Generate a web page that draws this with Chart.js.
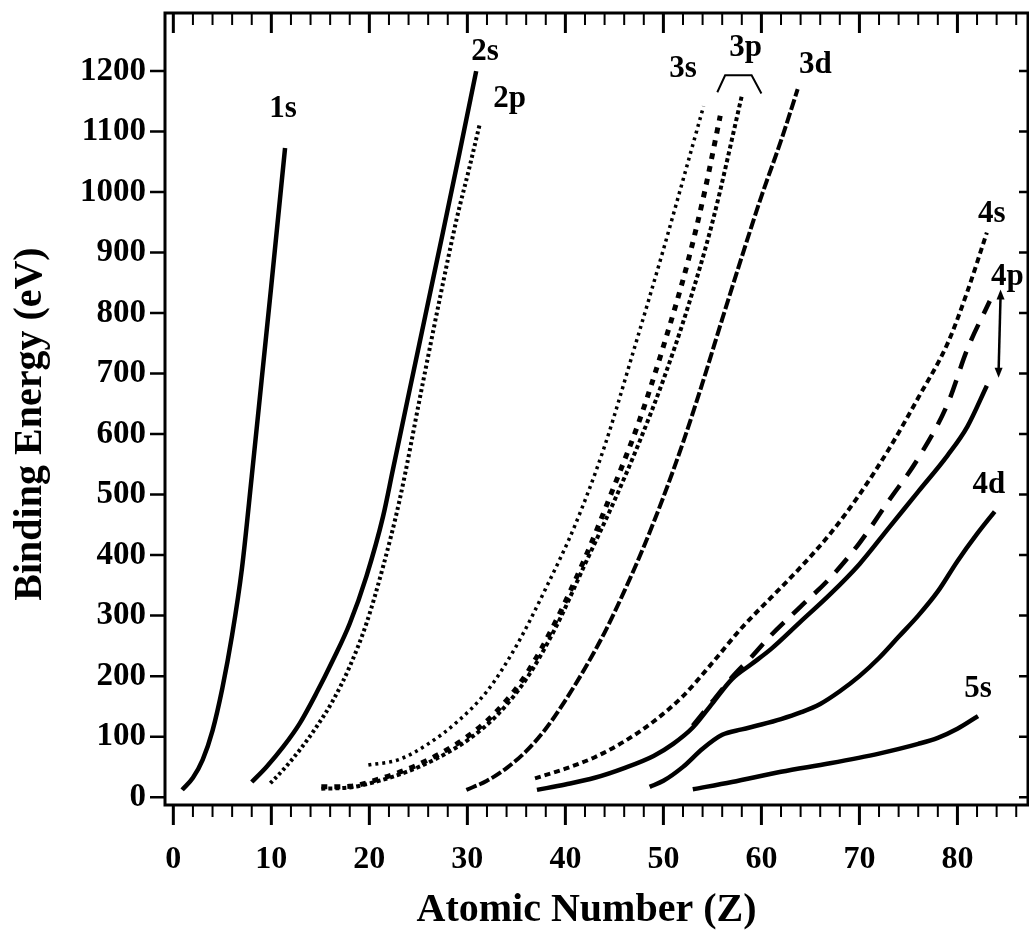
<!DOCTYPE html>
<html><head><meta charset="utf-8">
<script src="https://cdn.jsdelivr.net/npm/chart.js@4.4.0/dist/chart.umd.min.js"></script>
<style>html,body{margin:0;padding:0;background:#fff}#c{display:block}</style>
</head><body>
<canvas id="c" width="1029" height="931" style="width:1029px;height:931px"></canvas>
<script>
// ---- data (Z = atomic number, E = binding energy in eV) ----
const xTickLabels = [0, 10, 20, 30, 40, 50, 60, 70, 80];
const yTickLabels = [0, 100, 200, 300, 400, 500, 600, 700, 800, 900, 1000, 1100, 1200];

const z1s = [0.9, 2, 3, 4, 5, 6, 7, 8, 9, 10, 11.4];
const e1s = [12, 32, 62, 110, 180, 268, 378, 530, 688, 846, 1073];

const z2s = [8.0, 9.5, 11.2, 12.9, 14.6, 16.3, 18.0, 19.7, 21.4, 22.4, 23.9, 25.7, 27.5, 29.2, 30.9];
const e2s = [25, 50, 83, 122, 172, 227, 287, 365, 464, 541, 657, 795, 933, 1065, 1200];

const z2p = [9.9, 11.2, 12.9, 14.6, 16.3, 18.0, 19.7, 21.4, 23.1, 25.4, 27.2, 28.9, 30.2, 31.3];
const e2p = [23, 45, 78, 116, 160, 216, 287, 381, 492, 680, 825, 955, 1040, 1115];

const z3s = [19.9, 23, 26, 29, 32, 35, 38, 41, 44, 47, 50, 52, 54.1];
const e3s = [53, 62, 88, 125, 175, 250, 345, 450, 580, 740, 905, 1020, 1142];

const z3p1 = [15.1, 18, 21, 24, 27, 30, 33, 36, 39, 42, 45, 47.5, 50, 52.5, 54.2, 55.8];
const e3p1 = [17, 18, 30, 47, 70, 100, 142, 203, 290, 395, 515, 620, 745, 885, 1000, 1126];

const z3p3 = [15.1, 18, 21, 24, 27, 30, 33, 36, 39, 42, 45, 47.5, 50, 52.5, 55, 58];
const e3p3 = [14, 16, 27, 43, 65, 94, 135, 195, 280, 385, 490, 585, 690, 810, 950, 1159];

const z3d = [29.9, 32, 34, 36, 38, 40, 42, 44, 46, 48, 50, 52, 54, 56, 58, 60, 62, 63.7];
const e3d = [12, 27, 48, 76, 113, 160, 213, 272, 340, 414, 496, 586, 685, 790, 893, 993, 1085, 1170];

const z4s = [36.9, 40, 43, 46, 49, 52, 55, 58, 61, 64, 67, 70, 73, 76, 79, 81, 83];
const e4s = [31, 47, 66, 92, 125, 167, 222, 280, 330, 380, 435, 500, 575, 660, 750, 835, 933];

const z4p1 = [53, 55, 57, 59, 61, 64, 67, 70, 73, 76, 79, 81, 83.3];
const e4p1 = [118, 158, 198, 232, 268, 315, 362, 420, 490, 560, 650, 740, 820];

const z4p3 = [37.1, 40, 43, 46, 49, 51, 53, 55, 57, 59, 61, 64, 67, 70, 73, 76, 79, 81, 83];
const e4p3 = [12, 21, 32, 48, 68, 88, 115, 155, 195, 220, 245, 290, 335, 385, 445, 505, 565, 612, 680];

const z4d = [48.6, 50, 52, 54, 56, 58, 60, 62, 64, 66, 68, 70, 72, 74, 76, 78, 80, 82, 83.8];
const e4d = [17, 27, 50, 80, 103, 112, 120, 129, 140, 154, 175, 200, 230, 265, 300, 340, 390, 435, 472];

const z5s = [53, 57, 62, 67, 72, 76, 78, 80, 82.1];
const e5s = [13, 25, 42, 56, 72, 88, 98, 113, 134];

// ---- annotations (text labels placed in data units) ----
const curveLabels = [
  {text: '1s', x: 11.2, y: 1137},
  {text: '2s', x: 31.8, y: 1231},
  {text: '2p', x: 34.3, y: 1154},
  {text: '3s', x: 52.0, y: 1203},
  {text: '3p', x: 58.4, y: 1238},
  {text: '3d', x: 65.5, y: 1210},
  {text: '4s', x: 83.5, y: 963},
  {text: '4p', x: 85.1, y: 859},
  {text: '4d', x: 83.2, y: 516},
  {text: '5s', x: 82.1, y: 179}
];
const bracket3p = [[55.5, 1165], [56.3, 1193], [59.0, 1193], [60.0, 1163]];
const arrow4p = [[84.4, 839], [84.2, 693]];

const pts = (zs, es) => zs.map((z, i) => ({x: z, y: es[i]}));
const serif = 'Liberation Serif, Times New Roman, serif';

function line(label, zs, es, dash, width) {
  return {
    label, data: pts(zs, es),
    borderColor: '#000', backgroundColor: '#000',
    borderWidth: width, borderDash: dash, borderCapStyle: 'butt',
    pointRadius: 0, fill: false, cubicInterpolationMode: 'monotone'
  };
}

const frameAndLabels = {
  id: 'frameAndLabels',
  afterDraw(chart) {
    const {ctx, chartArea: a, scales: {x, y}} = chart;
    ctx.save();
    ctx.strokeStyle = '#000';
    ctx.fillStyle = '#000';
    ctx.lineCap = 'butt';
    // frame
    ctx.lineWidth = 3;
    ctx.strokeRect(a.left, a.top, a.right - a.left, a.bottom - a.top);
    // x ticks (bottom outward, top inward)
    for (let v = 0; v <= 86; v += 2) {
      const px = x.getPixelForValue(v);
      const major = v % 10 === 0;
      const len = major ? 20 : 12;
      ctx.lineWidth = major ? 3 : 2;
      ctx.beginPath();
      ctx.moveTo(px, a.bottom); ctx.lineTo(px, a.bottom + len);
      ctx.moveTo(px, a.top); ctx.lineTo(px, a.top + len);
      ctx.stroke();
    }
    // y ticks (left outward, right inward)
    ctx.lineWidth = 2.5;
    yTickLabels.forEach(v => {
      const py = y.getPixelForValue(v);
      ctx.beginPath();
      ctx.moveTo(a.left, py); ctx.lineTo(a.left - 15, py);
      ctx.moveTo(a.right, py); ctx.lineTo(a.right - 9, py);
      ctx.stroke();
    });
    // curve labels
    ctx.font = 'bold 31px ' + serif;
    ctx.textAlign = 'center';
    ctx.textBaseline = 'middle';
    curveLabels.forEach(l => ctx.fillText(l.text, x.getPixelForValue(l.x), y.getPixelForValue(l.y)));
    // 3p bracket
    ctx.lineWidth = 2;
    ctx.beginPath();
    bracket3p.forEach((p, i) => {
      const px = x.getPixelForValue(p[0]), py = y.getPixelForValue(p[1]);
      if (i === 0) ctx.moveTo(px, py); else ctx.lineTo(px, py);
    });
    ctx.stroke();
    // 4p double arrow
    const ax0 = x.getPixelForValue(arrow4p[0][0]), ay0 = y.getPixelForValue(arrow4p[0][1]);
    const ax1 = x.getPixelForValue(arrow4p[1][0]), ay1 = y.getPixelForValue(arrow4p[1][1]);
    ctx.lineWidth = 2.5;
    ctx.beginPath(); ctx.moveTo(ax0, ay0 + 6); ctx.lineTo(ax1, ay1 - 6); ctx.stroke();
    ctx.beginPath(); ctx.moveTo(ax0, ay0); ctx.lineTo(ax0 - 4, ay0 + 10); ctx.lineTo(ax0 + 4, ay0 + 10); ctx.closePath(); ctx.fill();
    ctx.beginPath(); ctx.moveTo(ax1, ay1); ctx.lineTo(ax1 - 4, ay1 - 10); ctx.lineTo(ax1 + 4, ay1 - 10); ctx.closePath(); ctx.fill();
    ctx.restore();
  }
};

new Chart(document.getElementById('c'), {
  type: 'line',
  data: {
    datasets: [
      line('1s', z1s, e1s, [], 4.5),
      line('2s', z2s, e2s, [], 4.5),
      line('2p', z2p, e2p, [3, 3], 4),
      line('3s', z3s, e3s, [3, 4], 3.5),
      line('3p1/2', z3p1, e3p1, [6, 7], 5),
      line('3p3/2', z3p3, e3p3, [4, 3], 4),
      line('3d', z3d, e3d, [11, 3], 4),
      line('4s', z4s, e4s, [6, 4], 4),
      line('4p1/2', z4p1, e4p1, [18, 12], 4.5),
      line('4p3/2', z4p3, e4p3, [], 4.5),
      line('4d', z4d, e4d, [], 4.5),
      line('5s', z5s, e5s, [], 4.5)
    ]
  },
  options: {
    responsive: false,
    animation: false,
    devicePixelRatio: 1,
    layout: {padding: {top: 13, right: 1, left: 0, bottom: 0}},
    plugins: {legend: {display: false}, tooltip: {enabled: false}},
    scales: {
      x: {
        type: 'linear', position: 'bottom', min: -0.85, max: 87.2,
        grid: {display: false, drawTicks: false}, border: {display: false},
        ticks: {
          padding: 36, color: '#000', maxRotation: 0, autoSkip: false,
          font: {family: serif, weight: 'bold', size: 32},
          callback: v => String(v)
        },
        afterBuildTicks: s => { s.ticks = xTickLabels.map(v => ({value: v})); },
        afterFit: s => { s.height = 126; s.paddingLeft = 0; s.paddingRight = 0; },
        title: {
          display: true, text: 'Atomic Number (Z)  ', color: '#000',
          font: {family: serif, weight: 'bold', size: 40, lineHeight: 1},
          padding: {top: 0, bottom: 0}
        }
      },
      y: {
        type: 'linear', position: 'left', min: -13, max: 1296,
        grid: {display: false, drawTicks: false}, border: {display: false},
        ticks: {
          padding: 19, color: '#000', autoSkip: false,
          font: {family: serif, weight: 'bold', size: 33},
          callback: v => String(v)
        },
        afterBuildTicks: s => { s.ticks = yTickLabels.map(v => ({value: v})); },
        afterFit: s => { s.width = 165; s.paddingTop = 0; s.paddingBottom = 0; },
        title: {
          display: true, text: 'Binding Energy (eV)   ', color: '#000',
          font: {family: serif, weight: 'bold', size: 40, lineHeight: 1},
          padding: {top: 11, bottom: 0}
        }
      }
    }
  },
  plugins: [frameAndLabels]
});
</script>
</body></html>
